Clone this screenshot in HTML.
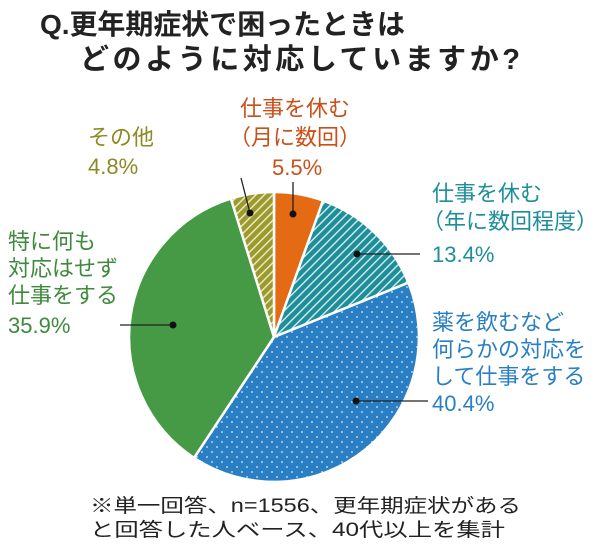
<!DOCTYPE html>
<html><head><meta charset="utf-8"><style>
body{margin:0;width:600px;height:544px;background:#fff;overflow:hidden}
svg{display:block}
text{font-family:"Liberation Sans","Noto Sans CJK JP",sans-serif}
</style></head><body>
<svg width="600" height="544" viewBox="0 0 600 544">
<defs>
<pattern id="h1" width="6" height="6" patternUnits="userSpaceOnUse" patternTransform="rotate(45)">
<rect width="6" height="6" fill="#1e8f9a"/><rect width="1.4" height="6" fill="#d8eef0"/></pattern>
<pattern id="h2" width="6" height="6" patternUnits="userSpaceOnUse" patternTransform="rotate(45)">
<rect width="6" height="6" fill="#9c9a2c"/><rect width="1.4" height="6" fill="#efeccc"/></pattern>
<pattern id="dt" width="10" height="10" patternUnits="userSpaceOnUse">
<rect width="10" height="10" fill="#2a7fc4"/><circle cx="2" cy="2" r="0.9" fill="#d9ebf8"/><circle cx="7" cy="7" r="0.9" fill="#d9ebf8"/></pattern>
</defs>
<text x="40" y="34" font-size="28" font-weight="bold" fill="#222" textLength="365">Q.更年期症状で困ったときは</text>
<text x="80" y="69" font-size="29" font-weight="bold" fill="#222" textLength="440">どのように対応していますか?</text>
<g stroke="#fff" stroke-width="2.5" stroke-linejoin="round">
<path d="M274,337 L274,192 A145,145 0 0 1 323.1,200.6 Z" fill="#e56a14"/>
<path d="M274,337 L323.1,200.6 A145,145 0 0 1 408.4,282.7 Z" fill="url(#h1)"/>
<path d="M274,337 L408.4,282.7 A145,145 0 0 1 194,457.9 Z" fill="url(#dt)"/>
<path d="M274,337 L194,457.9 A145,145 0 0 1 230.9,198.6 Z" fill="#479a45"/>
<path d="M274,337 L230.9,198.6 A145,145 0 0 1 274,192 Z" fill="url(#h2)"/>
</g>
<g stroke="#222" stroke-width="1.3" fill="none">
<line x1="293" y1="214" x2="293" y2="182"/>
<line x1="250" y1="213" x2="241" y2="178"/>
<line x1="357" y1="254" x2="420" y2="254"/>
<line x1="356" y1="401" x2="428" y2="401"/>
<line x1="173" y1="325" x2="120" y2="325"/>
</g>
<g fill="#111"><circle cx="293" cy="214" r="3.5"/><circle cx="250" cy="213" r="3.5"/><circle cx="357" cy="254" r="3.5"/><circle cx="356" cy="401" r="3.5"/><circle cx="173" cy="325" r="3.5"/></g>
<g font-size="22">
<g fill="#c8501a"><text x="240" y="116">仕事を休む</text><text x="229" y="145">（月に数回）</text><text x="272" y="175">5.5%</text></g>
<g fill="#8c8a22"><text x="88" y="145">その他</text><text x="88" y="174">4.8%</text></g>
<g fill="#1e8f9a"><text x="432" y="201">仕事を休む</text><text x="422" y="229">（年に数回程度）</text><text x="432" y="262">13.4%</text></g>
<g fill="#2a7fc4"><text x="432" y="330">薬を飲むなど</text><text x="432" y="357">何らかの対応を</text><text x="432" y="384">して仕事をする</text><text x="432" y="411">40.4%</text></g>
<g fill="#3f8a3d"><text x="8" y="249">特に何も</text><text x="8" y="276">対応はせず</text><text x="8" y="303">仕事をする</text><text x="8" y="333">35.9%</text></g>
</g>
<text x="90" y="512" font-size="19" fill="#222" textLength="431" lengthAdjust="spacingAndGlyphs">※単一回答、n=1556、更年期症状がある</text>
<text x="90" y="536" font-size="19" fill="#222" textLength="415" lengthAdjust="spacingAndGlyphs">と回答した人ベース、40代以上を集計</text>
</svg>
</body></html>
